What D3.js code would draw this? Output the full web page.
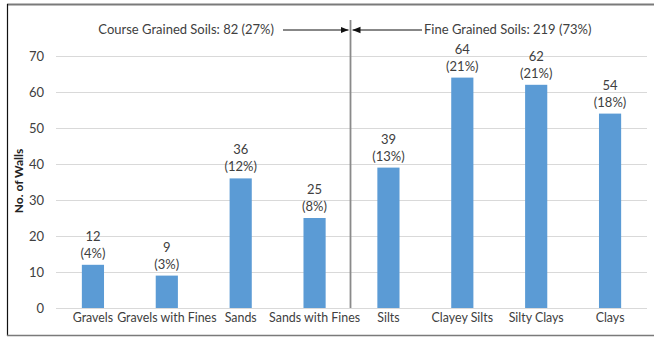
<!DOCTYPE html>
<html><head><meta charset="utf-8">
<script src="https://cdn.jsdelivr.net/npm/d3@7"></script>
<style>
html,body{margin:0;padding:0;background:#fff;}
text{font-family:Lato,"Open Sans",sans-serif;}
</style></head>
<body><svg id="c" width="654" height="337"></svg>
<script>
const categories = ["Gravels","Gravels with Fines","Sands","Sands with Fines","Silts","Clayey Silts","Silty Clays","Clays"];
const counts = [12,9,36,25,39,64,62,54];
const percents = ["4%","3%","12%","8%","13%","21%","21%","18%"];
const yTicks = [0,10,20,30,40,50,60,70];
const groupLabels = ["Course Grained Soils: 82 (27%)","Fine Grained Soils: 219 (73%)"];
const yTitle = "No. of Walls";

const svg = d3.select("#c");
// frame
svg.append("line").attr("x1",7).attr("x2",654).attr("y1",4.5).attr("y2",4.5).attr("stroke","#7a7a7a").attr("stroke-width",2);
svg.append("line").attr("x1",7.5).attr("x2",7.5).attr("y1",4).attr("y2",336).attr("stroke","#111").attr("stroke-width",1.2);
svg.append("line").attr("x1",7).attr("x2",654).attr("y1",335.5).attr("y2",335.5).attr("stroke","#7a7a7a").attr("stroke-width",1.5);

const x = d3.scaleBand().domain(categories).range([56,647]).paddingInner(0.7).paddingOuter(0.35);
const y = d3.scaleLinear().domain([0,70]).range([308,56]);

// gridlines
svg.append("g").selectAll("line").data(yTicks).join("line")
  .attr("x1",56).attr("x2",647).attr("y1",d=>Math.round(y(d))+0.5).attr("y2",d=>Math.round(y(d))+0.5)
  .attr("stroke","#d9d9d9").attr("stroke-width",1);

// y axis tick labels
const yAxis = d3.axisLeft(y).tickValues(yTicks).tickSize(0).tickPadding(0);
const gy = svg.append("g").attr("transform","translate(44,0)").call(yAxis);
gy.select(".domain").remove();
gy.selectAll("text").attr("font-size",13).attr("fill","#404040").style("font-family","Lato,sans-serif");

// y title
svg.append("text").attr("transform","translate(23,181) rotate(-90)").attr("text-anchor","middle")
  .attr("font-size",12).attr("font-weight","bold").attr("fill","#222").text(yTitle);

// bars
svg.append("g").selectAll("rect").data(categories).join("rect")
  .attr("x",d=>x(d)).attr("width",x.bandwidth())
  .attr("y",(d,i)=>y(counts[i])).attr("height",(d,i)=>y(0)-y(counts[i]))
  .attr("fill","#5b9bd5");

// value labels
const lab = svg.append("g").selectAll("text").data(categories).join("text")
  .attr("text-anchor","middle").attr("font-size",13).attr("fill","#404040")
  .attr("x",d=>x(d)+x.bandwidth()/2).attr("y",(d,i)=>y(counts[i])-24);
lab.append("tspan").attr("x",d=>x(d)+x.bandwidth()/2).text((d,i)=>counts[i]);
lab.append("tspan").attr("x",d=>x(d)+x.bandwidth()/2).attr("dy",17).text((d,i)=>"("+percents[i]+")");

// x axis labels
const xAxis = d3.axisBottom(x).tickSize(0).tickPadding(0);
const gx = svg.append("g").attr("transform","translate(0,313)").call(xAxis);
gx.select(".domain").remove();
gx.selectAll("text").attr("font-size",12.4).attr("fill","#404040").attr("dy","0.71em").style("font-family","Lato,sans-serif");

// divider
const divX = (x(categories[3]) + x.bandwidth() + x(categories[4]))/2 - 1;
svg.append("line").attr("x1",divX).attr("x2",divX).attr("y1",20).attr("y2",308).attr("stroke","#8a8a8a").attr("stroke-width",1.8);

// arrows
const defs = svg.append("defs");
defs.append("marker").attr("id","ah").attr("viewBox","0 0 10 10").attr("refX",10).attr("refY",5)
  .attr("markerWidth",8).attr("markerHeight",8).attr("markerUnits","userSpaceOnUse").attr("orient","auto")
  .append("path").attr("d","M0,1 L10,5 L0,9 Z").attr("fill","#111");
svg.append("line").attr("x1",283).attr("x2",divX-2).attr("y1",30).attr("y2",30).attr("stroke","#111").attr("stroke-width",1).attr("marker-end","url(#ah)");
svg.append("line").attr("x1",422).attr("x2",divX+2).attr("y1",30).attr("y2",30).attr("stroke","#111").attr("stroke-width",1).attr("marker-end","url(#ah)");

svg.append("text").attr("x",274).attr("y",34).attr("text-anchor","end").attr("font-size",13).attr("fill","#404040").text(groupLabels[0]);
svg.append("text").attr("x",424).attr("y",34).attr("text-anchor","start").attr("font-size",13).attr("fill","#404040").text(groupLabels[1]);
</script></body></html>
